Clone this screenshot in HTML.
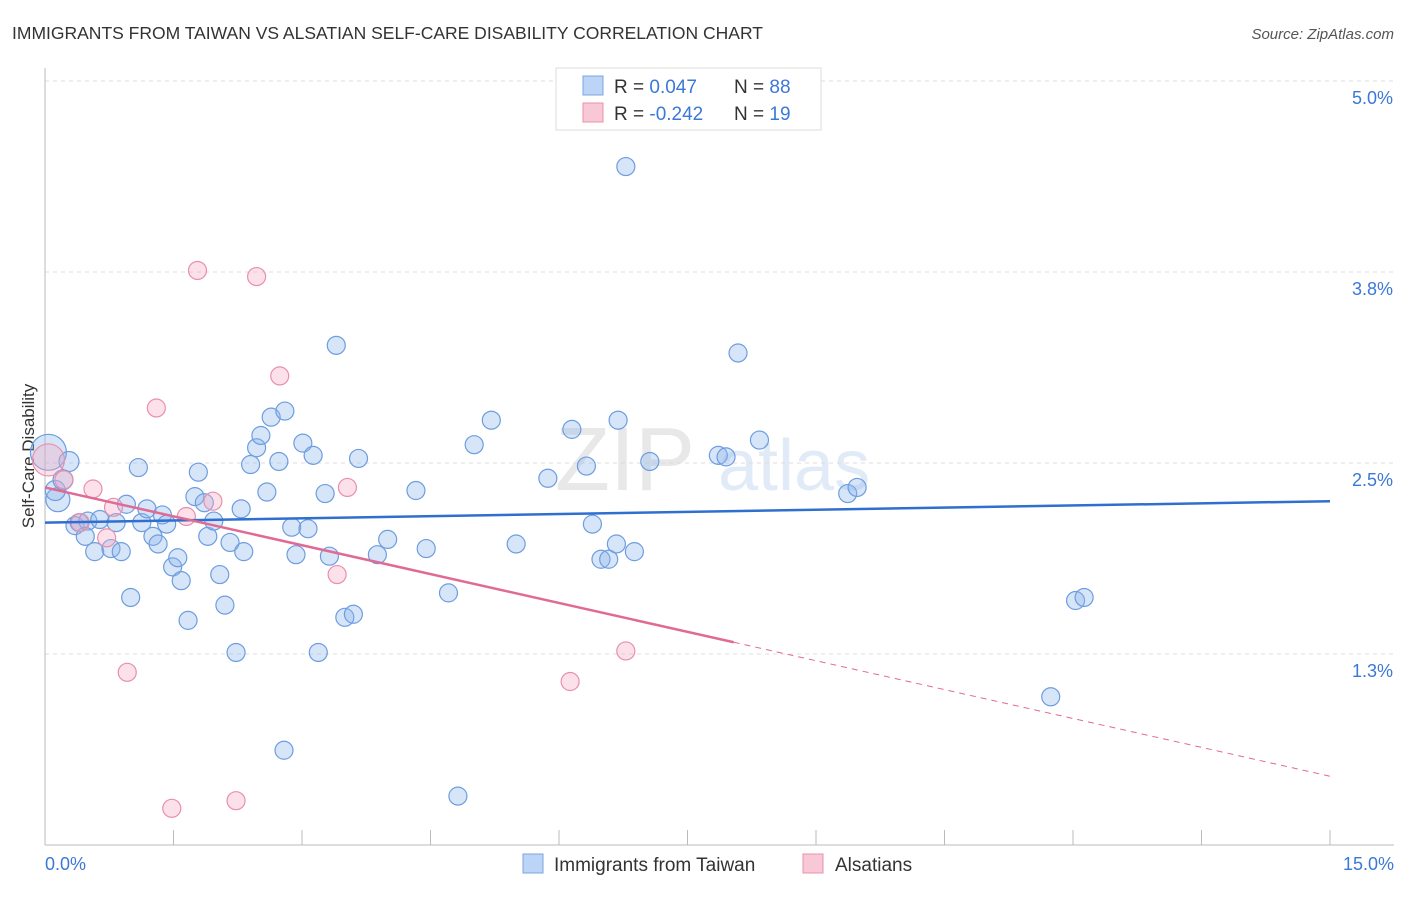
<!DOCTYPE html>
<html><head><meta charset="utf-8"><style>
body{margin:0;background:#fff;font-family:"Liberation Sans",sans-serif;}
svg text{font-family:"Liberation Sans",sans-serif;}
</style></head><body>
<svg id="chart" width="1406" height="892" xmlns="http://www.w3.org/2000/svg">
<text x="12" y="39" font-size="17.5" fill="#333">IMMIGRANTS FROM TAIWAN VS ALSATIAN SELF-CARE DISABILITY CORRELATION CHART</text>
<text x="1394" y="39" font-size="15" fill="#555" font-style="italic" text-anchor="end">Source: ZipAtlas.com</text>
<g opacity="0.22"><text x="555" y="490" font-size="90" font-family="Liberation Serif" fill="#999">ZIP</text><text x="718" y="490" font-size="72" fill="#7aa6e0">atlas</text></g>
<g id="grid"></g>
<g id="yticks"></g>
<line x1="45" y1="68" x2="45" y2="845" stroke="#bbb"/>
<line x1="45" y1="845" x2="1394" y2="845" stroke="#bbb"/>
<g id="xticks"></g>
<text x="45" y="870" font-size="18" fill="#3b78d8">0.0%</text>
<text x="1394" y="870" font-size="18" fill="#3b78d8" text-anchor="end">15.0%</text>
<text transform="translate(34,456) rotate(-90)" font-size="17" fill="#333" text-anchor="middle">Self-Care Disability</text>
<g id="pts"></g>
<g id="trends"></g>
<g>
<rect x="556" y="68" width="265" height="62" fill="#fff" stroke="#ddd"/>
<rect x="583" y="76" width="20" height="19" fill="#bcd4f5" stroke="#7aa6e0"/>
<rect x="583" y="103" width="20" height="19" fill="#f9c8d6" stroke="#e890ab"/>
<text x="614" y="93" font-size="19" fill="#333">R = <tspan fill="#3b78d8">0.047</tspan><tspan x="734">N = </tspan><tspan fill="#3b78d8">88</tspan></text>
<text x="614" y="120" font-size="19" fill="#333">R = <tspan fill="#3b78d8">-0.242</tspan><tspan x="734">N = </tspan><tspan fill="#3b78d8"> 19</tspan></text>
</g>
<g>
<rect x="523" y="854" width="20" height="19" fill="#bcd4f5" stroke="#7aa6e0"/>
<text x="554" y="871" font-size="19" fill="#333">Immigrants from Taiwan</text>
<rect x="803" y="854" width="20" height="19" fill="#f9c8d6" stroke="#e890ab"/>
<text x="835" y="871" font-size="19" fill="#333">Alsatians</text>
</g>
</svg>
<script>
const yTicks=[1.25,2.5,3.75,5.0];
const yTickLabels=["1.3%","2.5%","3.8%","5.0%"];
const xTickVals=[0,1.5,3,4.5,6,7.5,9,10.5,12,13.5,15];
const blueX=[0.04,0.15,0.12,0.28,0.21,0.35,0.40,0.50,0.47,0.58,0.64,0.77,0.83,0.89,0.95,1.00,1.09,1.13,1.19,1.26,1.32,1.37,1.42,1.49,1.55,1.59,1.67,1.75,1.79,1.86,1.90,1.97,2.04,2.10,2.16,2.23,2.29,2.32,2.40,2.47,2.52,2.59,2.64,2.73,2.80,2.79,2.88,2.93,3.01,3.07,3.13,3.19,3.27,3.32,3.40,3.50,3.60,3.66,3.88,4.00,4.33,4.45,4.71,4.82,5.01,5.21,5.50,5.87,6.15,6.32,6.39,6.49,6.58,6.67,6.69,6.78,6.88,7.06,7.86,7.95,8.09,8.34,9.37,9.48,11.74,12.03,12.13];
const blueY=[2.57,2.26,2.32,2.51,2.39,2.09,2.11,2.12,2.02,1.92,2.13,1.94,2.11,1.92,2.23,1.62,2.47,2.11,2.20,2.02,1.97,2.16,2.10,1.82,1.88,1.73,1.47,2.28,2.44,2.24,2.02,2.12,1.77,1.57,1.98,1.26,2.20,1.92,2.49,2.60,2.68,2.31,2.80,2.51,2.84,0.62,2.08,1.90,2.63,2.07,2.55,1.26,2.30,1.89,3.27,1.49,1.51,2.53,1.90,2.00,2.32,1.94,1.65,0.32,2.62,2.78,1.97,2.40,2.72,2.48,2.10,1.87,1.87,1.97,2.78,4.44,1.92,2.51,2.55,2.54,3.22,2.65,2.30,2.34,0.97,1.60,1.62];
const blueR=[18,12,10,10,10,9,9,9,9,9,9,9,9,9,9,9,9,9,9,9,9,9,9,9,9,9,9,9,9,9,9,9,9,9,9,9,9,9,9,9,9,9,9,9,9,9,9,9,9,9,9,9,9,9,9,9,9,9,9,9,9,9,9,9,9,9,9,9,9,9,9,9,9,9,9,9,9,9,9,9,9,9,9,9,9,9,9];
const pinkX=[0.04,0.22,0.41,0.56,0.72,0.80,0.96,1.30,1.48,1.65,1.78,1.96,2.23,2.47,2.74,3.41,3.53,6.13,6.78];
const pinkY=[2.52,2.39,2.11,2.33,2.01,2.21,1.13,2.86,0.24,2.15,3.76,2.25,0.29,3.72,3.07,1.77,2.34,1.07,1.27];
const pinkR=[16,9,9,9,9,9,9,9,9,9,9,9,9,9,9,9,9,9,9];
const blueTrend=[2.11,2.25];
const pinkTrend=[2.34,0.45];
const pinkSolidEnd=8.04;
const X=v=>45+v/15*1285, Y=v=>845-v*152.8;
const NS="http://www.w3.org/2000/svg";
function mk(p,t,a){const e=document.createElementNS(NS,t);for(const k in a)e.setAttribute(k,a[k]);p.appendChild(e);return e;}
const grid=document.getElementById('grid'),yt=document.getElementById('yticks');
yTicks.forEach((v,i)=>{
 const l=mk(grid,'line',{x1:45,x2:1394,y1:Y(v),y2:Y(v),stroke:'#ddd','stroke-dasharray':'4,4'});
 
 
 const t=mk(yt,'text',{x:1393,y:Y(v)+23,'font-size':18,fill:'#3b78d8','text-anchor':'end'});
 t.textContent=yTickLabels[i];
 
 
});
const xt=document.getElementById('xticks');
xTickVals.forEach(v=>{
 const l=mk(xt,'line',{x1:X(v),x2:X(v),y1:830,y2:845,stroke:'#bbb'});
 
 
});
const pts=document.getElementById('pts');
blueX.forEach((x,i)=>{
 const c=mk(pts,'circle',{cx:X(x),cy:Y(blueY[i]),r:blueR[i],fill:'rgba(140,180,235,0.35)',stroke:'#6d9de0','stroke-width':1.2});
 
 
});
pinkX.forEach((x,i)=>{
 const c=mk(pts,'circle',{cx:X(x),cy:Y(pinkY[i]),r:pinkR[i],fill:'rgba(245,170,195,0.35)',stroke:'#e890ab','stroke-width':1.2});
 
 
});
const tr=document.getElementById('trends');
const bl=mk(tr,'line',{x1:X(0),y1:Y(blueTrend[0]),x2:X(15),y2:Y(blueTrend[1]),stroke:'#2f6fd0','stroke-width':2.5});


const pm=pinkTrend[0]+(pinkTrend[1]-pinkTrend[0])*pinkSolidEnd/15;
const ps=mk(tr,'line',{x1:X(0),y1:Y(pinkTrend[0]),x2:X(pinkSolidEnd),y2:Y(pm),stroke:'#e06a93','stroke-width':2.5});


const pd=mk(tr,'line',{x1:X(pinkSolidEnd),y1:Y(pm),x2:X(15),y2:Y(pinkTrend[1]),stroke:'#e06a93','stroke-width':1,'stroke-dasharray':'6,5'});


</script>
</body></html>
